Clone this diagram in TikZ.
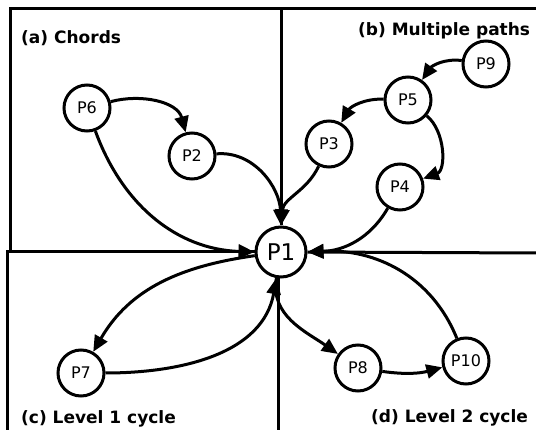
\documentclass[tikz,border=0pt]{standalone}
\usepackage{fontspec}
\setmainfont{DejaVu Sans}
\usetikzlibrary{arrows.meta}
\begin{document}
\begin{tikzpicture}[x=1pt,y=1pt,
  peer/.style={circle,draw,line width=3pt,minimum size=46pt,inner sep=0pt,font=\fontsize{16}{16}\selectfont},
  hub/.style={peer,minimum size=50pt,font=\fontsize{23}{23}\selectfont},
  link/.style={line width=3pt,-{Triangle[length=16pt,width=14pt]}},
  frame/.style={line width=3pt},
  caption/.style={anchor=base west,inner sep=0pt,font=\fontsize{17}{17}\selectfont\bfseries}]
\useasboundingbox (0,0) rectangle (536,-430);

% peers
\node[hub]  (p1)  at (281,-252) {P1};
\node[peer] (p6)  at (87,-108)  {P6};
\node[peer] (p2)  at (192,-156) {P2};
\node[peer] (p3)  at (329,-144) {P3};
\node[peer] (p5)  at (408,-100) {P5};
\node[peer] (p9)  at (486,-64)  {P9};
\node[peer] (p4)  at (400,-187) {P4};
\node[peer] (p7)  at (81,-373)  {P7};
\node[peer] (p8)  at (358,-368) {P8};
\node[peer] (p10) at (466,-361) {P10};

% panel frames meeting at P1
\coordinate (tl) at (10,-9);
\coordinate (tr) at (536,-9);
\coordinate (tm) at (281,-9);
\coordinate (ml) at (10,-252);
\coordinate (mll) at (7,-252);
\coordinate (bl) at (7,-430);
\coordinate (mr) at (536,-253);
\coordinate (bm) at (278,-430);
\draw[frame] (ml) -- (tl) -- (tr);
\draw[frame] (tm) -- (p1.north);
\draw[frame] (bl) -- (mll) -- (p1.west);
\draw[frame] (mr) -- (p1.east);
\draw[frame] (bm) -- (278,-277);

% (a) chords
\draw[link] (p6) to[out=15,in=105] (p2);
\draw[link] (p6) to[out=-70,in=178] (p1.west);
\draw[link] (p2) to[out=5,in=92] (p1.north);

% (b) multiple paths
\draw[link] (p9) to[out=172,in=55] (p5);
\draw[link] (p5) to[out=178,in=60] (p3);
\draw[link] (p5) to[out=-40,in=20] (p4);
\draw[link] (p3) to[out=-115,in=85] (p1.north);
\draw[link] (p4) to[out=-120,in=2] (p1.east);

% (c) level 1 cycle
\draw[link] (p1) to[out=188,in=60] (p7);
\draw[link] (p7) to[out=0,in=-100] (p1);

% (d) level 2 cycle
\draw[link] (p1) to[out=-100,in=145] (p8);
\draw[link] (p8) to[out=-8,in=195] (p10);
\draw[link] (p10) to[out=112,in=3] (p1.east);

% captions
\node[caption] (ca) at (21,-44)  {(a) Chords};
\node[caption] (cb) at (358,-36) {(b) Multiple paths};
\node[caption] (cc) at (21,-424) {(c) Level 1 cycle};
\node[caption] (cd) at (371,-423) {(d) Level 2 cycle};
\end{tikzpicture}
\end{document}
